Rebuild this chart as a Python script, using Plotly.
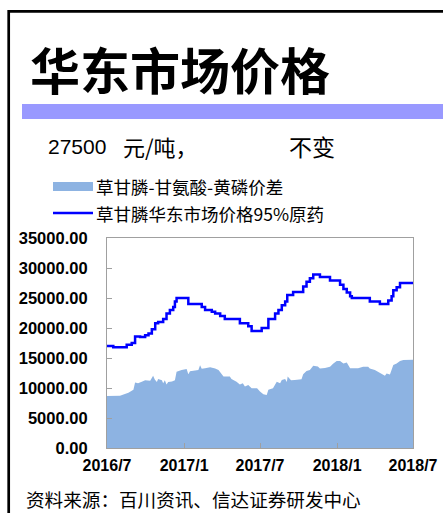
import plotly.graph_objects as go

# ---- data ----
spread_dates = [
    "2016-07-01", "2016-08-01", "2016-08-21", "2016-09-02", "2016-09-06", "2016-09-13",
    "2016-09-22", "2016-09-30", "2016-10-12", "2016-10-19", "2016-10-23", "2016-10-28",
    "2016-10-31", "2016-11-09", "2016-11-12", "2016-11-16", "2016-11-20", "2016-11-24",
    "2016-12-03", "2016-12-10", "2016-12-14", "2016-12-26", "2017-01-07", "2017-01-11",
    "2017-01-15", "2017-01-27", "2017-02-04", "2017-02-08", "2017-02-12", "2017-02-20",
    "2017-03-04", "2017-03-16", "2017-03-24", "2017-04-05", "2017-04-20", "2017-04-24",
    "2017-05-06", "2017-05-14", "2017-05-21", "2017-05-26", "2017-06-03", "2017-06-11",
    "2017-06-24", "2017-07-01", "2017-07-09", "2017-07-17", "2017-07-21", "2017-08-01",
    "2017-08-10", "2017-08-18", "2017-08-22", "2017-08-30", "2017-09-03", "2017-09-05",
    "2017-09-13", "2017-09-22", "2017-10-08", "2017-10-12", "2017-10-20", "2017-10-28",
    "2017-11-05", "2017-11-16", "2017-11-21", "2017-12-03", "2017-12-15", "2017-12-23",
    "2017-12-31", "2018-01-08", "2018-01-16", "2018-01-24", "2018-02-01", "2018-02-20",
    "2018-03-04", "2018-03-16", "2018-03-20", "2018-04-01", "2018-04-09", "2018-04-17",
    "2018-04-25", "2018-04-29", "2018-05-07", "2018-05-15", "2018-05-23", "2018-05-31",
    "2018-06-08", "2018-07-01",
]
spread_values = [
    8650, 8700, 9200, 9700, 10900, 10800,
    11050, 11300, 11200, 12050, 11400, 11000,
    11500, 11300, 10800, 11300, 10600, 11000,
    11100, 11300, 12700, 13000, 13150, 12300,
    12800, 12850, 13000, 13800, 13200, 13300,
    13450, 13250, 13000, 11900, 11900, 11500,
    11050, 10600, 10800, 10250, 10500, 9950,
    9950, 9400, 8950, 8850, 9700, 9950,
    11050, 10800, 11350, 11500, 11000, 11900,
    11300, 11350, 11450, 12300, 12850, 13000,
    13700, 13600, 13250, 13350, 13550, 14100,
    14500, 14500, 14100, 14250, 13300, 13300,
    13550, 13550, 13250, 13000, 12700, 12300,
    12050, 12400, 12250, 13850, 14100, 14500,
    14650, 14700,
]

price_dates = [
    "2016-07-01", "2016-07-16", "2016-08-17", "2016-08-29", "2016-09-06", "2016-09-18",
    "2016-09-30", "2016-10-08", "2016-10-16", "2016-10-24", "2016-10-31", "2016-11-12",
    "2016-11-20", "2016-11-28", "2016-12-06", "2016-12-10", "2016-12-14", "2017-01-11",
    "2017-02-12", "2017-02-20", "2017-03-08", "2017-03-16", "2017-03-28", "2017-04-08",
    "2017-05-14", "2017-06-03", "2017-06-11", "2017-07-05", "2017-07-21", "2017-08-06",
    "2017-08-14", "2017-08-22", "2017-08-30", "2017-09-04", "2017-09-18", "2017-10-12",
    "2017-10-20", "2017-10-28", "2017-11-05", "2017-11-21", "2017-12-15", "2018-01-08",
    "2018-01-16", "2018-01-24", "2018-02-01", "2018-02-05", "2018-03-20", "2018-04-13",
    "2018-05-03", "2018-05-11", "2018-05-15", "2018-05-23", "2018-05-31", "2018-07-01",
]
price_values = [
    17000, 16800, 17200, 17500, 18600, 18500,
    18800, 19100, 19800, 20800, 21000, 21500,
    22400, 23000, 23500, 24400, 25000, 24000,
    23500, 23000, 22700, 22400, 22000, 21500,
    20800, 20300, 19500, 20000, 21500, 22400,
    23000, 23800, 24400, 25500, 26000, 26900,
    27700, 28300, 28900, 28500, 27900, 27200,
    26500, 25900, 25300, 25000, 24400, 24000,
    24600, 25300, 26300, 26800, 27500, 27500,
]

x_tick_vals = ["2016-07-01", "2017-01-01", "2017-07-01", "2018-01-01", "2018-07-01"]
x_tick_text = ["2016/7", "2017/1", "2017/7", "2018/1", "2018/7"]
y_tick_vals = [0, 5000, 10000, 15000, 20000, 25000, 30000, 35000]

title_text = "华东市场价格"
price_number = "27500"
price_unit = "元/吨，"
change_text = "不变"
legend_spread = "草甘膦-甘氨酸-黄磷价差"
legend_price = "草甘膦华东市场价格95%原药"
source_text = "资料来源：百川资讯、信达证券研发中心"

# ---- figure ----
W, H = 443, 513
AREA_COLOR = "#8DB3E2"
LINE_COLOR = "#0000FF"
CJK = "Noto Sans CJK SC"
LAT = "Liberation Sans, Arial"

fig = go.Figure()
fig.add_trace(go.Scatter(
    x=spread_dates, y=spread_values, mode="lines", fill="tozeroy",
    line=dict(width=0, color=AREA_COLOR), fillcolor=AREA_COLOR,
    name=legend_spread, showlegend=False,
))
fig.add_trace(go.Scatter(
    x=price_dates, y=price_values, mode="lines", line_shape="hv",
    line=dict(width=2.5, color=LINE_COLOR),
    name=legend_price, showlegend=False,
))

ml, mr, mt, mb = 107, 30, 238, 65
PW, PH = W - ml - mr, H - mt - mb
fig.update_layout(
    width=W, height=H,
    margin=dict(l=ml, r=mr, t=mt, b=mb, pad=0, autoexpand=False),
    paper_bgcolor="white", plot_bgcolor="white",
    xaxis=dict(
        type="date", range=["2016-07-01", "2018-07-01"],
        tickvals=x_tick_vals, ticktext=x_tick_text,
        ticks="inside", ticklen=5, tickcolor="#A0A0A0",
        showgrid=False, zeroline=False,
        showline=True, linecolor="#A0A0A0", linewidth=1.2, mirror=True,
        tickfont=dict(family=LAT, size=16, color="black", weight="bold"),
        ticklabelstandoff=3,
    ),
    yaxis=dict(
        range=[0, 35000], tickvals=y_tick_vals, tickformat=".2f",
        ticks="inside", ticklen=5, tickcolor="#A0A0A0",
        showgrid=False, zeroline=False,
        showline=True, linecolor="#A0A0A0", linewidth=1.2, mirror=True,
        tickfont=dict(family=LAT, size=16.5, color="black", weight="bold"),
        ticklabelstandoff=15,
    ),
    showlegend=False,
)

# paper coordinates are relative to the plotting area; convert from page pixels
def px(x):
    return (x - ml) / PW

def py(y):
    return (H - mb - y) / PH

shapes = []
# outer black frame (runs off the right and bottom edges)
shapes.append(dict(type="rect", xref="paper", yref="paper",
                   x0=px(8.7), x1=px(470), y0=py(11.3), y1=py(540),
                   line=dict(color="black", width=2.7), fillcolor="rgba(0,0,0,0)", layer="above"))
# purple band under title
shapes.append(dict(type="rect", xref="paper", yref="paper",
                   x0=px(22), x1=px(460), y0=py(119), y1=py(104),
                   line=dict(width=0), fillcolor="#9999FF"))
# legend symbols
shapes.append(dict(type="rect", xref="paper", yref="paper",
                   x0=px(53), x1=px(93), y0=py(191), y1=py(182),
                   line=dict(width=0), fillcolor=AREA_COLOR))
shapes.append(dict(type="line", xref="paper", yref="paper",
                   x0=px(53), x1=px(93), y0=py(213), y1=py(213),
                   line=dict(color=LINE_COLOR, width=2.5)))
fig.update_layout(shapes=shapes)

def ann(text, x, y, size, family, bold=False, color="black"):
    fig.add_annotation(text=text, xref="paper", yref="paper",
                       x=px(x), y=py(y), xanchor="left", yanchor="middle",
                       showarrow=False, borderpad=0,
                       font=dict(family=family, size=size, color=color,
                                 weight="bold" if bold else "normal"))

ann(title_text, 29, 68, 50, CJK, bold=True)
ann(price_number, 47, 146, 21, LAT)
ann(price_unit, 122, 146, 22, CJK)
ann(change_text, 288, 146, 23, CJK)
ann(legend_spread, 95, 186, 17.5, CJK)
ann(legend_price, 95, 213, 17.5, CJK)
ann(source_text, 25, 498, 18.6, CJK)

fig.write_html("out.html", config={"displayModeBar": False},
               post_script="document.body.style.margin='0';")
